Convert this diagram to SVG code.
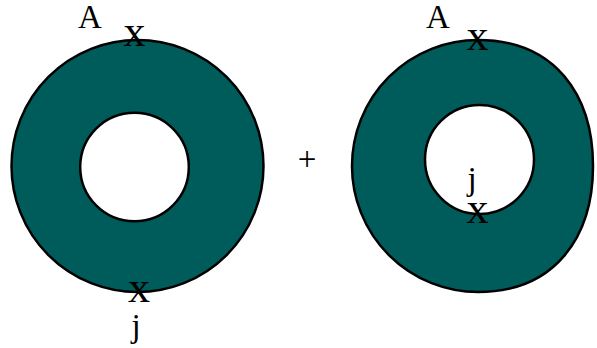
<svg xmlns="http://www.w3.org/2000/svg" width="597" height="348" viewBox="0 0 597 348">
<style>
.ring{fill:#005b5b;stroke:#000;stroke-width:2.5}
.hole{fill:#fff;stroke:#000;stroke-width:2.5}
.lbl{font-family:"Liberation Serif","Times New Roman",serif;font-size:33px;fill:#000;text-anchor:middle}
.mk{font-family:"Liberation Serif","Times New Roman",serif;font-size:44px;fill:#000;text-anchor:middle}
</style>
<rect width="597" height="348" fill="#fff"/>
<g id="annulus-left">
<circle class="ring" cx="137.5" cy="166" r="126"/>
<circle class="hole" cx="134.5" cy="167" r="54.3"/>
</g>
<g id="annulus-right">
<path class="ring" d="M478,40 C555,40 593,95 593,166 C593,237 555,292 478,292 A126,126 0 0 1 352,166 A126,126 0 0 1 478,40 Z"/>
<circle class="hole" cx="479.5" cy="159.5" r="54.5"/>
</g>
<g id="labels-left">
<text class="lbl" x="90" y="28">A</text>
<text class="mk" x="134.5" y="46">x</text>
<text class="mk" x="139" y="302">x</text>
<text class="lbl" x="136" y="337">j</text>
</g>
<g id="plus">
<text class="lbl" x="307" y="170">+</text>
</g>
<g id="labels-right">
<text class="lbl" x="438" y="28">A</text>
<text class="mk" x="477.5" y="50">x</text>
<text class="lbl" x="472" y="190">j</text>
<text class="mk" x="477.5" y="223">x</text>
</g>
</svg>
